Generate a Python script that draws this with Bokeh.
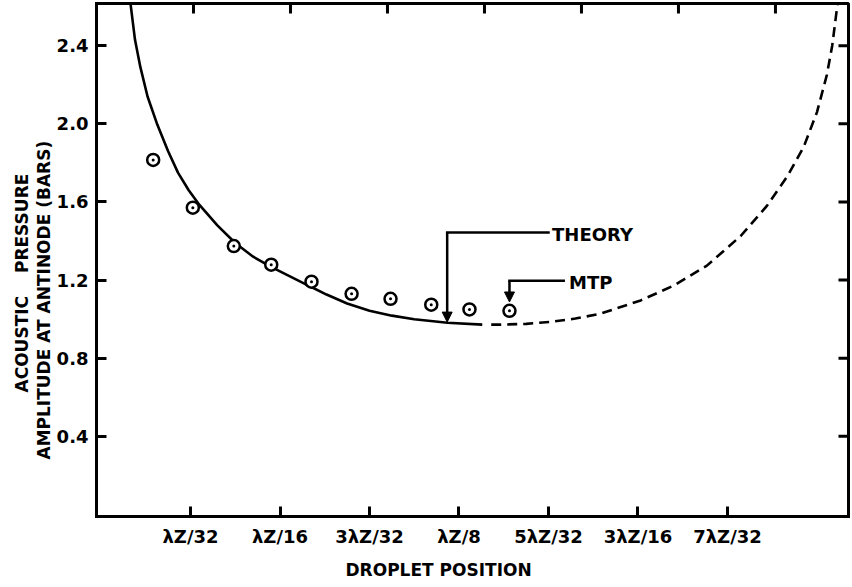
import math
from bokeh.plotting import figure
from bokeh.models import Range1d, FixedTicker, Label, Arrow, NormalHead, Title
from bokeh.embed import file_html
from bokeh.resources import INLINE

# ---- data ----
theory_x = [0.33, 0.38, 0.44, 0.52, 0.63, 0.75, 0.86, 0.98, 1.10, 1.30, 1.50, 1.70,
            1.90, 2.10, 2.30, 2.52, 2.75, 3.00, 3.25, 3.50, 3.87, 4.26]
theory_y = [2.614, 2.43, 2.29, 2.14, 1.995, 1.86, 1.75, 1.66, 1.585, 1.48, 1.39, 1.32,
            1.268, 1.222, 1.176, 1.126, 1.080, 1.043, 1.018, 1.000, 0.982, 0.972]

extrap_x = [4.36, 4.46, 4.75, 5.02, 5.30, 5.58, 6.03, 6.40, 6.77, 7.15, 7.44, 7.67,
            7.85, 8.00, 8.11, 8.17, 8.22, 8.24]
extrap_y = [0.972, 0.972, 0.976, 0.986, 1.003, 1.028, 1.096, 1.172, 1.274, 1.427, 1.580, 1.732,
            1.88, 2.06, 2.25, 2.40, 2.58, 2.65]

mtp_x = [0.583, 1.026, 1.484, 1.902, 2.352, 2.80, 3.235, 3.69, 4.117, 4.564]
mtp_y = [1.815, 1.571, 1.374, 1.279, 1.192, 1.130, 1.104, 1.074, 1.050, 1.043]

x_ticks = [1, 2, 3, 4, 5, 6, 7]
x_tick_labels = ["λZ/32", "λZ/16", "3λZ/32", "λZ/8", "5λZ/32", "3λZ/16", "7λZ/32"]
y_ticks = [0.4, 0.8, 1.2, 1.6, 2.0, 2.4]
y_tick_labels = ["0.4", "0.8", "1.2", "1.6", "2.0", "2.4"]

# pointer annotations: label position, start of leader, pointer x, leader y, tip y
theory_note = dict(text="THEORY", lx=5.04, ly=1.431, hx=5.00, px=3.868, py=1.444, tip=0.985)
mtp_note = dict(text="MTP", lx=5.23, ly=1.19, hx=5.17, px=4.564, py=1.197, tip=1.088)

FONT = "DejaVu Sans"

W, H = 852, 587
BL, BR, BT, BB = 96, 4, 3, 68
X0, X1 = -0.0503, 8.352
Y0, Y1 = -0.0102, 2.616
TOP0, TOP1 = 0.0, 7.753   # the top edge's ticks are drawn on their own spacing

p = figure(width=W, height=H,
           x_range=Range1d(X0, X1), y_range=Range1d(Y0, Y1),
           output_backend="svg", toolbar_location=None,
           min_border_left=BL, min_border_right=BR, min_border_top=BT, min_border_bottom=BB)
p.extra_x_ranges = {"top": Range1d(TOP0, TOP1)}
p.xgrid.visible = False
p.ygrid.visible = False
p.outline_line_color = "black"
p.outline_line_width = 3
p.background_fill_color = "white"
p.border_fill_color = "white"


def style_axis(ax):
    ax.axis_line_width = 3
    ax.axis_line_color = "black"
    ax.axis_line_cap = "square"
    ax.major_tick_in = 10
    ax.major_tick_out = 0
    ax.major_tick_line_width = 3
    ax.major_tick_line_color = "black"
    ax.minor_tick_line_color = None
    ax.major_label_text_font = FONT
    ax.major_label_text_font_style = "bold"
    ax.major_label_text_font_size = "18px"
    ax.major_label_text_color = "black"


xb = p.xaxis[0]
xb.ticker = FixedTicker(ticks=x_ticks)
xb.major_label_overrides = dict(zip(x_ticks, x_tick_labels))
style_axis(xb)
xb.major_label_standoff = 9

yl = p.yaxis[0]
yl.ticker = FixedTicker(ticks=y_ticks)
yl.major_label_overrides = dict(zip(y_ticks, y_tick_labels))
style_axis(yl)
yl.major_label_standoff = 8

# inward ticks on the top and right edges (10 px long)
frame_w = W - BL - BR
frame_h = H - BT - BB
tick_dx = 10 * (X1 - X0) / frame_w
tick_dy = 10 * (Y1 - Y0) / frame_h
p.segment(x0=x_ticks, y0=[Y1] * len(x_ticks), x1=x_ticks, y1=[Y1 - tick_dy] * len(x_ticks),
          x_range_name="top", line_width=3, line_color="black")
p.segment(x0=[X1] * len(y_ticks), y0=y_ticks, x1=[X1 - tick_dx] * len(y_ticks), y1=y_ticks,
          line_width=3, line_color="black")

# curves and points
p.line(theory_x, theory_y, line_width=2.6, line_color="black")
p.line(extrap_x, extrap_y, line_width=2.6, line_color="black", line_dash="10 6")
p.scatter(mtp_x, mtp_y, marker="circle_dot", size=12, line_width=2.5,
          line_color="black", fill_color="white")

# pointers
for n in (theory_note, mtp_note):
    p.line([n["hx"], n["px"]], [n["py"], n["py"]], line_width=2.5, line_color="black",
           line_cap="square")
    p.add_layout(Arrow(x_start=n["px"], y_start=n["py"], x_end=n["px"], y_end=n["tip"],
                       line_width=2.5, line_color="black",
                       end=NormalHead(size=10, fill_color="black", line_color="black",
                                      line_width=1)))
    p.add_layout(Label(x=n["lx"], y=n["ly"], text=n["text"], text_baseline="middle",
                       text_align="left", text_font=FONT, text_font_style="bold",
                       text_font_size="18px", text_color="black"))

# axis titles
p.add_layout(Title(text="DROPLET POSITION", align="left", offset=249, standoff=16,
                   text_font=FONT, text_font_style="bold", text_font_size="17px",
                   text_color="black"), "below")
p.add_layout(Title(text="AMPLITUDE AT ANTINODE (BARS)", align="left", offset=57, standoff=0,
                   text_font=FONT, text_font_style="bold", text_font_size="17px",
                   text_color="black"), "left")
p.add_layout(Title(text="ACOUSTIC\u2003 PRESSURE", align="left", offset=124, standoff=0,
                   text_font=FONT, text_font_style="bold", text_font_size="17px",
                   text_color="black"), "left")

open("out.html", "w").write(file_html(p, INLINE))
